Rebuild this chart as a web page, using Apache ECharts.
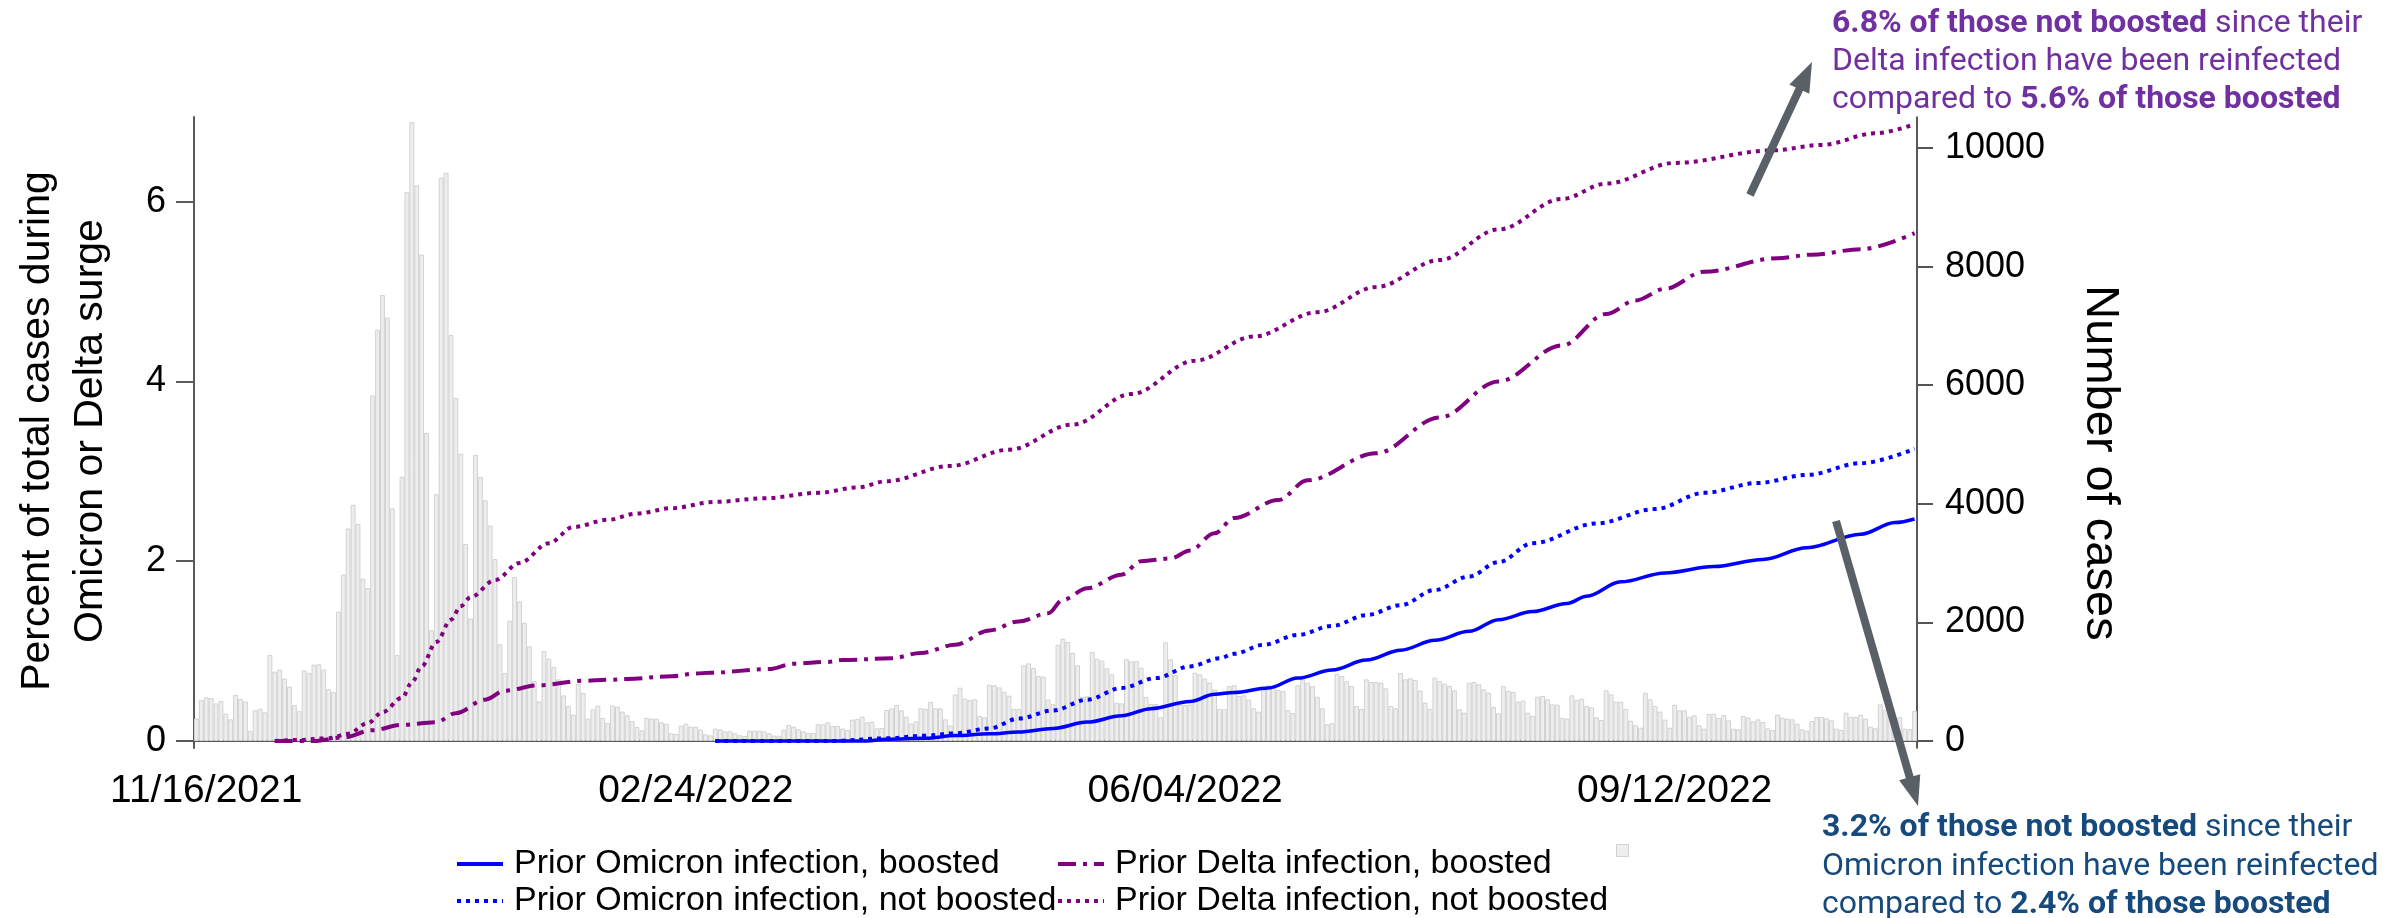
<!DOCTYPE html>
<html><head><meta charset="utf-8">
<script src="https://cdn.jsdelivr.net/npm/echarts@6/dist/echarts.min.js"></script>
<style>html,body{margin:0;padding:0;background:#fff}#c{width:2395px;height:918px}</style>
</head><body><div id="c"></div>
<script>
// ---------- data ----------
const startDate = '2021-11-14';
const dayCount = 352;
const xTickLabels = ['11/16/2021', '02/24/2022', '06/04/2022', '09/12/2022'];
const leftTicks = [0, 2, 4, 6];
const rightTicks = [0, 2000, 4000, 6000, 8000, 10000];

// daily number of cases (gray bars, right axis), one per day from startDate
const dailyCases = [
  378, 688, 736, 722, 633, 674, 461, 365, 777, 709,
  667, 172, 516, 544, 482, 1452, 1170, 1204, 1053, 915,
  605, 502, 1190, 1149, 1287, 1293, 1204, 874, 826, 2181,
  2807, 3584, 3984, 3660, 2738, 2580, 5827, 6935, 7520, 7141,
  3922, 1452, 4458, 9254, 10437, 9370, 8201, 5194, 1871, 4162,
  9501, 9584, 6846, 5786, 4844, 3323, 2064, 4823, 4451, 4059,
  3633, 3068, 1631, 1149, 2030, 2766, 2353, 1995, 1596, 1011,
  667, 1514, 1388, 1248, 1040, 770, 590, 444, 961, 809,
  377, 534, 596, 388, 303, 596, 579, 495, 433, 337,
  236, 180, 388, 377, 377, 315, 292, 129, 118, 259,
  292, 242, 242, 191, 112, 96, 208, 197, 163, 163,
  129, 96, 84, 174, 174, 174, 163, 129, 90, 90,
  191, 270, 242, 197, 163, 135, 135, 281, 281, 315,
  253, 253, 208, 185, 360, 371, 410, 315, 326, 214,
  219, 523, 551, 607, 517, 410, 292, 332, 551, 540,
  658, 551, 551, 365, 259, 787, 899, 714, 691, 703,
  422, 399, 950, 939, 905, 832, 764, 540, 540, 1276,
  1309, 1231, 1096, 1085, 697, 618, 1624, 1725, 1669, 1489,
  1276, 747, 753, 1501, 1388, 1354, 1225, 1124, 646, 635,
  1377, 1343, 1349, 1236, 742, 624, 624, 399, 1664, 1377,
  1113, 607, 607, 613, 1152, 1124, 1051, 984, 865, 540,
  534, 927, 940, 759, 770, 697, 551, 495, 882, 939,
  910, 860, 843, 523, 472, 939, 1040, 984, 927, 747,
  551, 281, 300, 1135, 1096, 1006, 927, 590, 540, 1040,
  995, 995, 984, 888, 590, 551, 1146, 1040, 1057, 1028,
  849, 646, 540, 1068, 1012, 967, 927, 854, 534, 478,
  984, 995, 955, 871, 815, 573, 466, 927, 843, 826,
  663, 680, 478, 422, 747, 759, 703, 618, 613, 388,
  377, 770, 691, 714, 590, 568, 399, 354, 854, 787,
  663, 663, 540, 343, 264, 225, 815, 703, 590, 495,
  360, 225, 613, 517, 517, 410, 433, 264, 208, 455,
  461, 388, 438, 348, 208, 197, 422, 393, 332, 365,
  320, 214, 185, 444, 393, 377, 365, 292, 197, 174,
  337, 405, 405, 382, 348, 208, 185, 478, 410, 405,
  444, 377, 242, 214, 618, 528, 478, 393, 400, 208,
  200, 506
];

// cumulative percent reinfected (left axis); day = index of day since startDate
const omiBoostedDay = [106,137,141,149,155,162,168,175,182,189,195,203,208,212,219,225,232,239,246,253,260,266,273,280,284,291,300,310,320,329,340,347,351];
const omiBoostedPct = [0,0,0.02,0.03,0.06,0.08,0.10,0.14,0.21,0.28,0.36,0.44,0.52,0.54,0.59,0.70,0.79,0.90,1.01,1.12,1.22,1.35,1.44,1.53,1.61,1.77,1.87,1.94,2.02,2.15,2.30,2.43,2.47];

const omiNotBoostedDay = [106,130,141,149,155,162,168,175,182,189,196,203,209,212,218,225,232,239,246,253,260,266,273,286,298,308,319,329,340,351];
const omiNotBoostedPct = [0,0,0.03,0.06,0.085,0.14,0.25,0.34,0.46,0.59,0.70,0.83,0.92,0.97,1.07,1.18,1.28,1.40,1.51,1.68,1.83,1.99,2.20,2.42,2.58,2.76,2.87,2.96,3.09,3.25];

const deltaBoostedDay = [16,24,30,36,42,49,53,59,63,70,79,84,88,97,102,105,117,122,129,132,142,148,155,162,168,174,177,182,189,193,199,203,208,212,221,227,241,254,266,279,288,294,300,308,323,330,340,351];
const deltaBoostedPct = [0,0,0.04,0.12,0.18,0.21,0.31,0.46,0.56,0.62,0.67,0.68,0.69,0.72,0.75,0.76,0.80,0.86,0.88,0.90,0.92,0.98,1.07,1.23,1.33,1.42,1.57,1.70,1.85,2.0,2.03,2.12,2.31,2.48,2.68,2.90,3.2,3.6,4.0,4.4,4.75,4.9,5.03,5.22,5.37,5.41,5.47,5.65];

const deltaNotBoostedDay = [16,20,27,31,35,38,42,44,46,49,52,54,56,61,66,72,77,84,90,97,106,116,127,135,141,154,166,179,191,204,216,229,241,254,266,279,288,302,322,332,343,351];
const deltaNotBoostedPct = [0,0.01,0.03,0.08,0.2,0.32,0.48,0.65,0.83,1.1,1.35,1.5,1.6,1.79,1.98,2.2,2.38,2.46,2.53,2.59,2.66,2.70,2.76,2.82,2.89,3.06,3.24,3.52,3.86,4.23,4.5,4.77,5.05,5.35,5.69,6.03,6.2,6.43,6.57,6.63,6.76,6.86];

const seriesNames = [
  'Prior Omicron infection, boosted',
  'Prior Omicron infection, not boosted',
  'Prior Delta infection, boosted',
  'Prior Delta infection, not boosted'
];

// ---------- build ----------
const pad = n => (n < 10 ? '0' : '') + n;
const t0 = Date.parse(startDate + 'T00:00:00Z');
const categories = [];
for (let i = 0; i < dayCount; i++) {
  const d = new Date(t0 + i * 86400000);
  categories.push(pad(d.getUTCMonth() + 1) + '/' + pad(d.getUTCDate()) + '/' + d.getUTCFullYear());
}
const pairs = (days, vals) => days.map((d, i) => [d, vals[i]]);
const showTick = (idx, val) => xTickLabels.indexOf(val) >= 0;

const FONT = 'Liberation Sans, Arial, sans-serif';
const BLUE = '#0000ff', PURPLE = '#800080';

const lineBase = {
  type: 'line', yAxisIndex: 0, symbol: 'none', showSymbol: false, smooth: 0.35, smoothMonotone: 'x', z: 3, silent: true
};

function arrow(x1, y1, x2, y2) {
  const dx = x2 - x1, dy = y2 - y1, L = Math.hypot(dx, dy), ux = dx / L, uy = dy / L;
  const hl = 30, hw = 11;
  const bx = x2 - ux * hl, by = y2 - uy * hl;
  return [
    { type: 'line', shape: { x1: x1, y1: y1, x2: bx + ux * 2, y2: by + uy * 2 }, style: { stroke: '#5a6068', lineWidth: 8 }, z: 10 },
    { type: 'polygon', shape: { points: [[x2, y2], [bx - uy * hw, by + ux * hw], [bx + uy * hw, by - ux * hw]] }, style: { fill: '#5a6068' }, z: 10 }
  ];
}
function note(x, y, text, color) {
  return {
    type: 'text', x: x, y: y, z: 10,
    style: {
      text: text, fill: color, fontSize: 32, fontFamily: 'Roboto', align: 'left', verticalAlign: 'middle',
      rich: { b: { fontWeight: 'bold', fontSize: 32, fontFamily: 'Roboto', fill: color } }
    }
  };
}
const TOPC = '#7030a0', BOTC = '#174a7c';

const legendCommon = {
  orient: 'horizontal', padding: 0, itemWidth: 46, itemHeight: 14,
  itemStyle: { color: 'rgba(0,0,0,0)', borderColor: 'rgba(0,0,0,0)', borderWidth: 0 },
  lineStyle: { width: 4 },
  textStyle: { fontSize: 34, fontFamily: FONT, color: '#000', lineHeight: 40, padding: [0, 0, 0, 6] },
  selectedMode: false
};

const option = {
  animation: false,
  backgroundColor: '#fff',
  grid: { left: 194, right: 478, top: 117, bottom: 170, outerBoundsMode: 'none' },
  xAxis: {
    type: 'category', data: categories, boundaryGap: true,
    axisLine: { lineStyle: { color: '#5a5a5a', width: 2 } },
    axisTick: { alignWithLabel: true, interval: showTick, length: 13, lineStyle: { color: '#5a5a5a', width: 2 } },
    axisLabel: { interval: showTick, fontSize: 39, fontFamily: FONT, color: '#000', margin: 24 },
    splitLine: { show: false }
  },
  yAxis: [
    {
      type: 'value', position: 'left', min: -0.0779, max: 6.941,
      axisLine: { show: true, lineStyle: { color: '#5a5a5a', width: 2 } },
      axisTick: { show: true, customValues: leftTicks, length: 18, lineStyle: { color: '#5a5a5a', width: 2 } },
      axisLabel: { customValues: leftTicks, fontSize: 36, fontFamily: FONT, color: '#000', margin: 28 },
      splitLine: { show: false }
    },
    {
      type: 'value', position: 'right', min: -118, max: 10523,
      axisLine: { show: true, lineStyle: { color: '#222', width: 1.5 } },
      axisTick: { show: true, customValues: rightTicks, length: 16, lineStyle: { color: '#555', width: 2 } },
      axisLabel: { customValues: rightTicks, fontSize: 36, fontFamily: FONT, color: '#000', margin: 28,
        formatter: v => String(v) },
      splitLine: { show: false }
    }
  ],
  legend: [
    Object.assign({}, legendCommon, { data: [seriesNames[0]], left: 455, top: 844 }),
    Object.assign({}, legendCommon, { data: [seriesNames[1]], left: 455, top: 881 }),
    Object.assign({}, legendCommon, { data: [seriesNames[2]], left: 1056, top: 844 }),
    Object.assign({}, legendCommon, { data: [seriesNames[3]], left: 1056, top: 881 }),
    Object.assign({}, legendCommon, { data: [' '], left: 1616, top: 844, itemWidth: 12, itemHeight: 12, icon: 'rect',
      itemStyle: { color: '#eeeeee', borderColor: '#d2d2d2', borderWidth: 1 }, formatter: () => '' })
  ],
  series: [
    {
      name: ' ', type: 'bar', yAxisIndex: 1, data: dailyCases, barCategoryGap: '0%', z: 1, silent: true,
      itemStyle: { color: '#eeeeee', borderColor: '#d2d2d2', borderWidth: 1 }
    },
    Object.assign({}, lineBase, { name: seriesNames[0], data: pairs(omiBoostedDay, omiBoostedPct),
      lineStyle: { color: BLUE, width: 3.5, type: 'solid' }, itemStyle: { color: BLUE } }),
    Object.assign({}, lineBase, { name: seriesNames[1], data: pairs(omiNotBoostedDay, omiNotBoostedPct),
      lineStyle: { color: BLUE, width: 4, type: [4, 5] }, itemStyle: { color: BLUE } }),
    Object.assign({}, lineBase, { name: seriesNames[2], data: pairs(deltaBoostedDay, deltaBoostedPct),
      lineStyle: { color: PURPLE, width: 4, type: [18, 7, 4, 7] }, itemStyle: { color: PURPLE } }),
    Object.assign({}, lineBase, { name: seriesNames[3], data: pairs(deltaNotBoostedDay, deltaNotBoostedPct),
      lineStyle: { color: PURPLE, width: 4, type: [4, 5] }, itemStyle: { color: PURPLE } })
  ],
  graphic: [
    { type: 'text', x: 38, y: 431, rotation: Math.PI / 2,
      style: { text: 'Percent of total cases during', fontSize: 41, fontFamily: FONT, fill: '#000', align: 'center', verticalAlign: 'middle' } },
    { type: 'text', x: 91, y: 431, rotation: Math.PI / 2,
      style: { text: 'Omicron or Delta surge', fontSize: 41, fontFamily: FONT, fill: '#000', align: 'center', verticalAlign: 'middle' } },
    { type: 'text', x: 2100, y: 463, rotation: -Math.PI / 2,
      style: { text: 'Number of cases', fontSize: 47, fontFamily: FONT, fill: '#000', align: 'center', verticalAlign: 'middle' } },
    note(1832, 24, '{b|6.8% of those not boosted} since their', TOPC),
    note(1832, 62, 'Delta infection have been reinfected', TOPC),
    note(1832, 100, 'compared to {b|5.6% of those boosted}', TOPC),
    note(1822, 828, '{b|3.2% of those not boosted} since their', BOTC),
    note(1822, 867, 'Omicron infection have been reinfected', BOTC),
    note(1822, 905, 'compared to {b|2.4% of those boosted}', BOTC)
  ].concat(arrow(1750, 195, 1812, 62), arrow(1836, 521, 1918, 806))
};

const chart = echarts.init(document.getElementById('c'), null, { renderer: 'canvas' });
chart.setOption(option);
</script>
</body></html>
